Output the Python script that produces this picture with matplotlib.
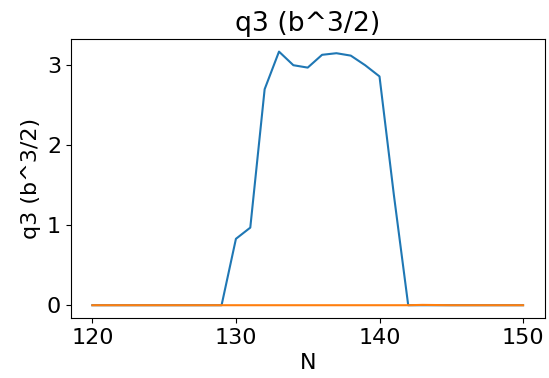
import matplotlib.pyplot as plt

N = list(range(120, 151))
q3_a = [0, 0, 0, 0, 0, 0, 0, 0, 0, 0,
        0.83, 0.97, 2.70, 3.17, 3.00, 2.97, 3.13, 3.15, 3.12, 3.00,
        2.86, 1.38, 0, 0, 0, 0, 0, 0, 0, 0, 0]
q3_b = [0.0, 0.0, 0.0, 0.0, 0.0, 0.0, 0.0, 0.0, 0.0, 0.0,
        0.0, 0.0, 0.0, 0.0, 0.0, 0.0, 0.0, 0.0, 0.0, 0.0,
        0.0, 0.0, 0.0, 0.004, 0.002, 0.0, 0.0, 0.0, 0.0, 0.0, 0.0]

plt.rcParams['font.size'] = 16
fig = plt.figure(figsize=(5.49, 3.78), dpi=100)
ax = fig.add_axes([0.129, 0.159, 0.863, 0.738])
ax.plot(N, q3_a)
ax.plot(N, q3_b)
ax.set_title('q3 (b^3/2)')
ax.set_xlabel('N')
ax.set_ylabel('q3 (b^3/2)')
ax.set_xticks([120, 130, 140, 150])
ax.set_yticks([0, 1, 2, 3])
fig.savefig('out.png', dpi=100)
